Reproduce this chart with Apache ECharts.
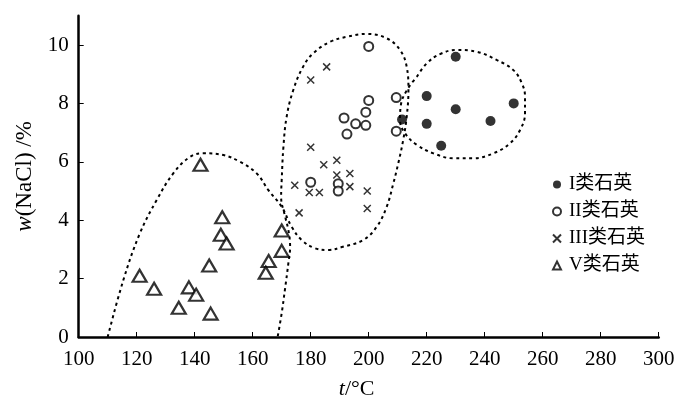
<!DOCTYPE html>
<html>
<head>
<meta charset="utf-8">
<script src="https://cdn.jsdelivr.net/npm/echarts@6/dist/echarts.min.js"></script>
<style>html,body{margin:0;padding:0;background:#fff}#c{width:700px;height:417px}</style>
</head>
<body>
<div id="c"></div>
<script>
// ---- data ----
const seriesNames = ['I类石英', 'II类石英', 'III类石英', 'V类石英'];
const typeI = [[230,9.6],[220,8.25],[230,7.8],[220,7.3],[250,8.0],[242,7.4],[225,6.55],[211.5,7.45]];
const typeII = [[200,9.95],[200,8.1],[199,7.7],[191.5,7.5],[195.5,7.3],[199,7.25],[192.5,6.95],[209.5,8.2],[209.5,7.05],[180,5.3],[189.5,5.25],[189.5,5.0]];
const typeIII = [[185.5,9.25],[180,8.8],[180,6.5],[189,6.05],[184.5,5.9],[193.5,5.6],[189,5.55],[174.5,5.2],[193.5,5.15],[179.5,4.95],[183,4.95],[199.5,5.0],[176,4.25],[199.5,4.4]];
const typeV = [[142,5.9],[149.5,4.1],[149,3.5],[151,3.2],[145,2.45],[121,2.1],[126,1.65],[138,1.7],[140.5,1.45],[134.5,1.0],[145.5,0.8],[170,3.65],[170,2.95],[165.5,2.6],[164.5,2.2]];
// dashed boundary: arch over V group, bottom/right/top of II-III group, down its left side to the axis
const boundaryA = [[110,0],[115.4,1.95],[121.1,3.55],[126.9,4.69],[132.6,5.6],[138.4,6.17],[143,6.29],[149.9,6.23],[155.6,6.0],[161.4,5.6],[165.4,5.03],[170,4.46],[173.4,3.78],[176.9,3.32],[181.5,3.04],[186,2.98],[191.1,3.09],[198.1,3.32],[202.8,3.78],[206.2,4.46],[208.5,5.26],[210.2,5.95],[211.9,6.75],[213.1,7.54],[213.7,8.46],[213.1,9.26],[210.8,9.83],[206.2,10.23],[199.3,10.38],[192.4,10.28],[186.7,10.11],[180.9,9.72],[177.4,9.26],[174,8.46],[171.7,7.54],[170.6,6.52],[170,5.38],[169.8,4.8],[171.2,4.12],[172.3,3.66],[172.9,3.09],[172.3,2.53],[171.1,1.61],[170,0.82],[168.6,0]];
// dashed boundary around I group
const boundaryB = [[216.6,8.91],[220,9.37],[224.6,9.69],[230.3,9.83],[237.2,9.77],[244.1,9.49],[249.9,9.14],[252.8,8.69],[253.9,8.23],[253.9,7.66],[252.2,7.09],[248.7,6.63],[243,6.29],[236.1,6.12],[229.2,6.12],[222.3,6.29],[216.6,6.58],[212.5,6.98],[210.8,7.43],[211.1,7.95],[213.2,8.46],[216.6,8.91]];
const xTicks = [100,120,140,160,180,200,220,240,260,280,300];
const yTicks = [0,2,4,6,8,10];

// ---- chart ----
const chart = echarts.init(document.getElementById('c'), null, {renderer:'canvas'});
const serif = "'Liberation Serif', 'Times New Roman', serif";
const legendFont = "'Liberation Serif', 'Noto Sans CJK SC', serif";
const dashLine = (data) => ({
  type:'line', data: data, smooth:0.4, symbol:'none', silent:true, z:1,
  lineStyle:{color:'#000', width:2, type:[3,3.5]}, legendHoverLink:false
});
chart.setOption({
  animation:false,
  backgroundColor:'#fff',
  grid:{left:78.7, right:41.3, top:15.8, bottom:80},
  legend:{
    orient:'vertical', left:547, top:170, itemGap:8, itemWidth:8, itemHeight:8,
    data:seriesNames,
    textStyle:{fontFamily:legendFont, fontSize:19, color:'#000', padding:[0,0,0,3]}
  },
  xAxis:{
    type:'value', min:xTicks[0], max:xTicks[xTicks.length-1], interval:20,
    splitLine:{show:false},
    axisLine:{lineStyle:{color:'#000', width:2.5}},
    axisTick:{inside:true, length:5, lineStyle:{color:'#000', width:1}},
    axisLabel:{fontFamily:serif, fontSize:21, color:'#000', margin:12},
    name:'{i|t}/°C', nameLocation:'middle', nameGap:41,
    nameTextStyle:{fontFamily:serif, fontSize:22, color:'#000', padding:[0,24,0,0],
      rich:{i:{fontStyle:'italic', fontFamily:serif, fontSize:22}}}
  },
  yAxis:{
    type:'value', min:0, max:11, interval:2,
    splitLine:{show:false},
    axisLine:{lineStyle:{color:'#000', width:2.5}},
    axisTick:{inside:true, length:5, lineStyle:{color:'#000', width:1}, customValues:yTicks},
    axisLabel:{fontFamily:serif, fontSize:21, color:'#000', margin:10, customValues:yTicks},
    name:'{i|w}(NaCl) /%', nameLocation:'middle', nameGap:32,
    nameTextStyle:{fontFamily:serif, fontSize:23, color:'#000',
      rich:{i:{fontStyle:'italic', fontFamily:serif, fontSize:23}}}
  },
  series:[
    {name:seriesNames[0], type:'scatter', data:typeI, symbol:'circle', symbolSize:10, z:3,
      itemStyle:{color:'#000'}},
    {name:seriesNames[1], type:'scatter', data:typeII, symbol:'circle', symbolSize:9, z:3,
      itemStyle:{color:'#fff', borderColor:'#000', borderWidth:2}},
    {name:seriesNames[2], type:'scatter', data:typeIII, symbol:'path://M0,0L10,10M10,0L0,10', symbolSize:7, z:3,
      itemStyle:{color:'transparent', borderColor:'#000', borderWidth:1.5}},
    {name:seriesNames[3], type:'scatter', data:typeV, symbol:'triangle', symbolSize:[14,12], z:3,
      itemStyle:{color:'#fff', borderColor:'#000', borderWidth:2.2}},
    dashLine(boundaryA),
    dashLine(boundaryB)
  ]
});
</script>
</body>
</html>
